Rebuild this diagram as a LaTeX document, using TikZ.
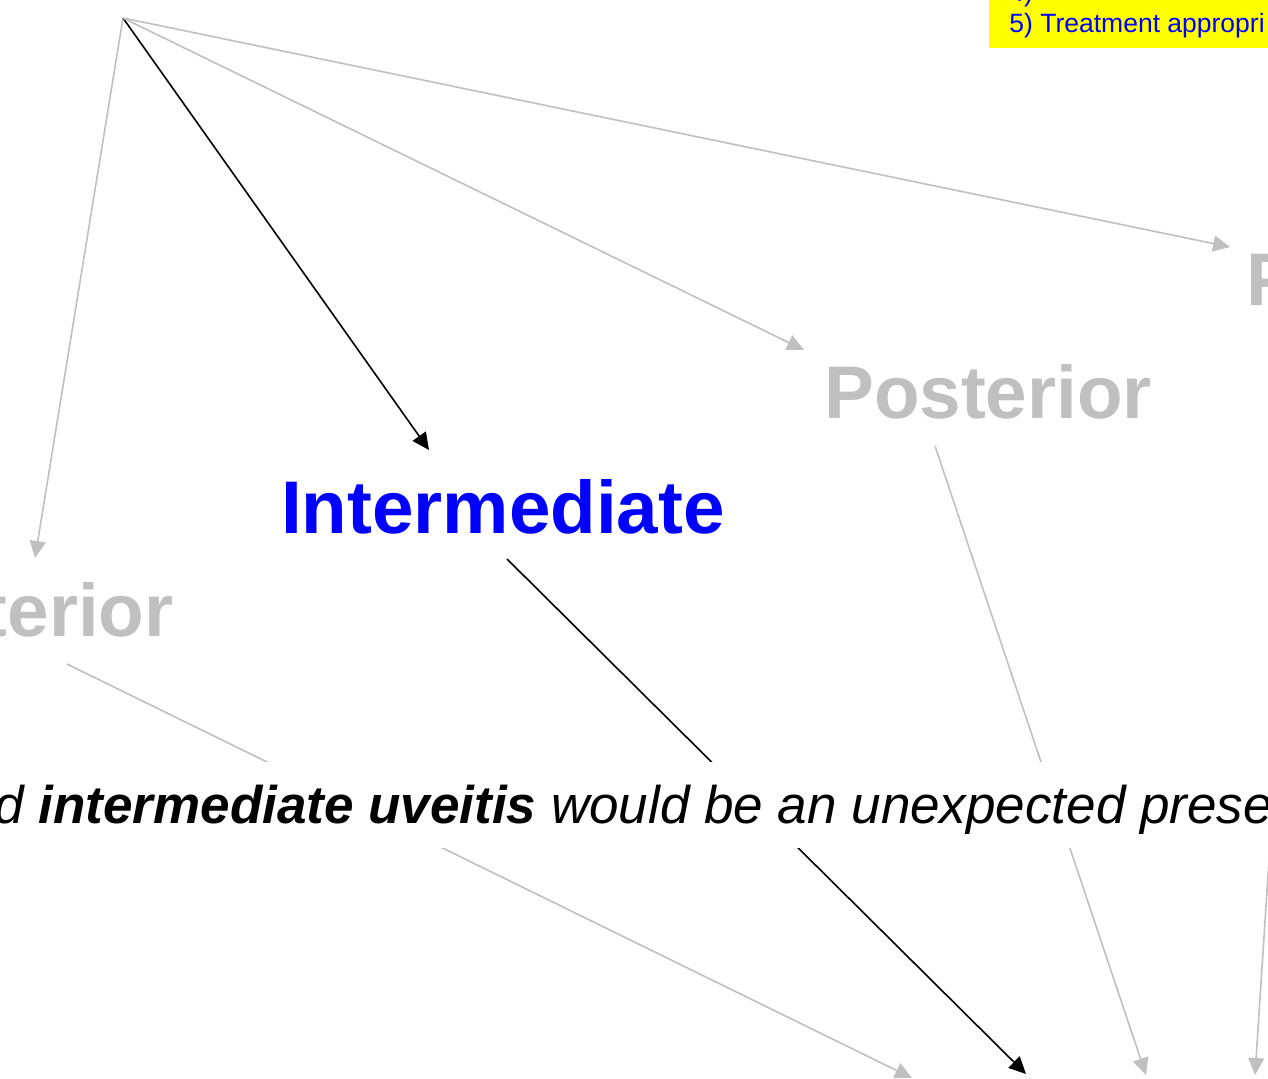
\documentclass[tikz,border=0pt]{standalone}
\usepackage{fontspec}
\setmainfont{Liberation Sans}
\usetikzlibrary{arrows.meta}
\definecolor{faded}{RGB}{192,192,192}
\definecolor{hiblue}{RGB}{0,0,255}
\definecolor{hiyellow}{RGB}{255,255,0}
\tikzset{
  link/.style={draw=faded, line width=0.8pt, -{Triangle[length=8.5pt,width=8pt]}},
  activelink/.style={draw=black, line width=0.8pt, -{Triangle[length=8.5pt,width=8pt]}},
  bigterm/.style={font=\fontsize{37.3}{44}\selectfont\bfseries, inner sep=0pt},
  fadedterm/.style={bigterm, text=faded},
  activeterm/.style={bigterm, text=hiblue},
  note/.style={font=\fontsize{13.25}{15}\selectfont, text=hiblue, inner sep=0pt, align=left},
  caption/.style={font=\fontsize{26.5}{32}\selectfont\itshape, fill=white, inner xsep=0pt,
    inner ysep=0pt, text height=30.5pt, text depth=12.5pt},
}
\begin{document}
\begin{tikzpicture}[x=0.5pt,y=-0.5pt]
\useasboundingbox (0,0) rectangle (1268,1078);
\clip (0,0) rectangle (1268,1078);

% highlighted criteria box
\fill[hiyellow] (989,-40) rectangle (1400,48);
\node[note, anchor=base west] (crit4) at (1009,1) {4)};
\node[note, anchor=base west] (crit5) at (1009,32) {5) Treatment appropri};

% location labels
\node[fadedterm, anchor=base east] (ant) at (174,636) {Anterior};
\node[activeterm, anchor=base] (inter) at (503,533) {Intermediate};
\node[fadedterm, anchor=base] (post) at (988,418) {Posterior};
\node[fadedterm, anchor=base west] (pan) at (1246,305) {P};

% connector end points
\coordinate (root) at (123,18);
\coordinate (ant-in) at (35,558);
\coordinate (inter-in) at (429,450);
\coordinate (post-in) at (804,350);
\coordinate (pan-in) at (1230,247);
\coordinate (ant-out) at (67,664);
\coordinate (inter-out) at (507,559);
\coordinate (post-out) at (935,446);
\coordinate (pan-out) at (1269,860);
\coordinate (ant-end) at (912,1078);
\coordinate (inter-end) at (1026,1074);
\coordinate (post-end) at (1146,1075);
\coordinate (pan-end) at (1255,1075);

% links from the top
\draw[link] (root) -- (ant-in);
\draw[activelink] (root) -- (inter-in);
\draw[link] (root) -- (post-in);
\draw[link] (root) -- (pan-in);

% links down to the next row
\draw[link] (ant-out) -- (ant-end);
\draw[activelink] (inter-out) -- (inter-end);
\draw[link] (post-out) -- (post-end);
\draw[link] (pan-out) -- (pan-end);

% caption band over the links
\node[caption, anchor=base west, minimum width=1500pt, align=left] (band) at (-60,823) {};
\node[font=\fontsize{26.5}{32}\selectfont\itshape, inner sep=0pt, anchor=base west] (cap) at (-6,823)
  {d \textbf{intermediate uveitis} would be an unexpected prese};
\end{tikzpicture}
\end{document}
